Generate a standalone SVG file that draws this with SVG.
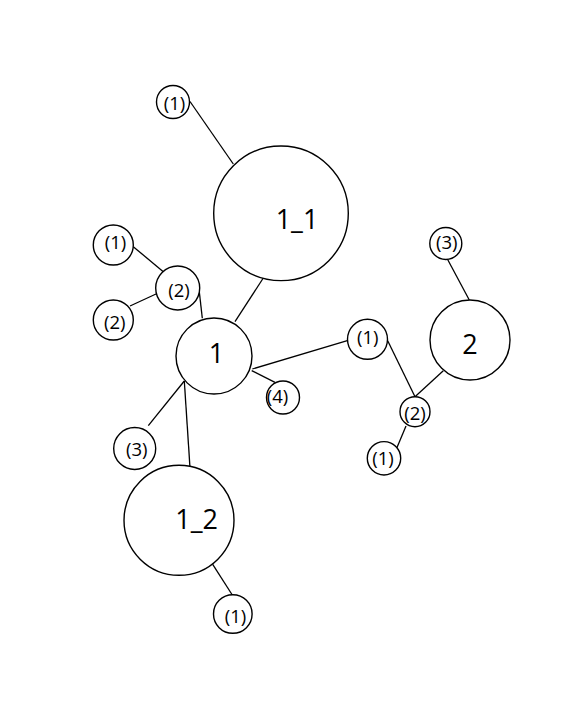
<svg xmlns="http://www.w3.org/2000/svg" width="586" height="710" viewBox="0 0 586 710">
<style>
.n{fill:#fff;stroke:#000;stroke-width:1.4}
.e{stroke:#000;stroke-width:1.3;fill:none}
.big{font-family:"Open Sans","Noto Sans",sans-serif;font-size:27px;fill:#000;text-anchor:middle}
.sm{font-family:"Open Sans","Noto Sans",sans-serif;font-size:18.5px;fill:#000;text-anchor:middle}
</style>
<rect width="586" height="710" fill="#fff"/>
<g id="edges">
<line class="e" x1="190" y1="101.5" x2="233.3" y2="164"/>
<line class="e" x1="263.3" y1="278" x2="235" y2="321.7"/>
<line class="e" x1="133.3" y1="246.7" x2="163.3" y2="271.7"/>
<line class="e" x1="130" y1="306" x2="156" y2="294"/>
<line class="e" x1="199.3" y1="291.7" x2="202.3" y2="318.3"/>
<line class="e" x1="251.7" y1="370.7" x2="275" y2="382.3"/>
<line class="e" x1="252.3" y1="369" x2="347.3" y2="340.7"/>
<line class="e" x1="184.3" y1="381" x2="148.3" y2="425.7"/>
<line class="e" x1="184.3" y1="381" x2="190" y2="467.7"/>
<line class="e" x1="212.7" y1="564.3" x2="232.3" y2="595"/>
<line class="e" x1="446.7" y1="257.7" x2="469.3" y2="300"/>
<line class="e" x1="387.7" y1="340.7" x2="415" y2="396.7"/>
<line class="e" x1="443.3" y1="370.7" x2="415" y2="396.7"/>
<line class="e" x1="406" y1="426" x2="396.7" y2="448.3"/>
</g>
<g id="n1_1"><circle class="n" cx="281" cy="213.3" r="67.3"/><text class="big" x="297" y="229">1_1</text></g>
<g id="n1_1_1"><circle class="n" cx="173" cy="102" r="16.5"/><text class="sm" x="174.5" y="110">(1)</text></g>
<g id="n1"><circle class="n" cx="214" cy="356" r="38"/><text class="big" x="216.5" y="363">1</text></g>
<g id="n1_2a"><circle class="n" cx="177.7" cy="288" r="22"/><text class="sm" x="179" y="297">(2)</text></g>
<g id="n1_2a_1"><circle class="n" cx="113.3" cy="245" r="20"/><text class="sm" x="115.5" y="249">(1)</text></g>
<g id="n1_2a_2"><circle class="n" cx="113.3" cy="320" r="20"/><text class="sm" x="114.7" y="329">(2)</text></g>
<g id="n1_4"><circle class="n" cx="283" cy="397.5" r="16.5"/><text class="sm" x="277.5" y="403">(4)</text></g>
<g id="n1_3"><circle class="n" cx="134.7" cy="448.5" r="21"/><text class="sm" x="136.7" y="456">(3)</text></g>
<g id="n1_2"><circle class="n" cx="179" cy="520.3" r="55"/><text class="big" x="196.7" y="529.3">1_2</text></g>
<g id="n1_2_1"><circle class="n" cx="232.8" cy="614" r="19.3"/><text class="sm" x="235.5" y="623">(1)</text></g>
<g id="n1_1m"><circle class="n" cx="367.5" cy="339.3" r="20"/><text class="sm" x="367.7" y="343.5">(1)</text></g>
<g id="n2"><circle class="n" cx="470" cy="340" r="40"/><text class="big" x="470" y="354">2</text></g>
<g id="n2_3"><circle class="n" cx="445.8" cy="243.5" r="16"/><text class="sm" x="446.7" y="248.5">(3)</text></g>
<g id="n2_2"><circle class="n" cx="415" cy="411.7" r="15"/><text class="sm" x="415" y="420">(2)</text></g>
<g id="n2_2_1"><circle class="n" cx="384" cy="458.3" r="16.7"/><text class="sm" x="383" y="465">(1)</text></g>
</svg>
